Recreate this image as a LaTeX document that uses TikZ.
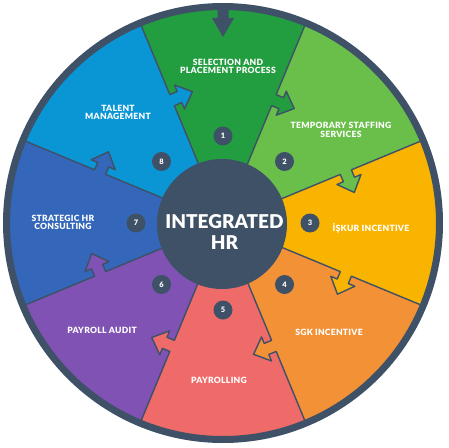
\documentclass[tikz,border=0pt]{standalone}
\usepackage{fontspec}
\setmainfont{Lato}[BoldFont={Lato Black}]
\definecolor{dark}{HTML}{3F5166}
\definecolor{c1}{HTML}{229E40}
\definecolor{c2}{HTML}{6ABF4B}
\definecolor{c3}{HTML}{F8B400}
\definecolor{c4}{HTML}{F29136}
\definecolor{c5}{HTML}{EE6B6A}
\definecolor{c6}{HTML}{7F52B4}
\definecolor{c7}{HTML}{3467BA}
\definecolor{c8}{HTML}{0A95D4}
\begin{document}
\begin{tikzpicture}[x=1pt,y=1pt,
  seglabel/.style={text=white, font=\bfseries\fontsize{8.6}{8.5}\selectfont\addfontfeature{LetterSpace=3}, align=center, inner sep=0pt},
  numdot/.style={circle, fill=dark, text=white, minimum size=19pt, inner sep=0pt, font=\bfseries\fontsize{7.5}{7.5}\selectfont},
  edgeline/.style={draw=dark, line width=1.4pt, line join=round}]
\useasboundingbox (-223,-224) rectangle (226,223);
% sectors
\foreach \k/\col in {1/c1,2/c2,3/c3,4/c4,5/c5,6/c6,7/c7,8/c8}{
  \pgfmathsetmacro\sa{112.5-45*(\k-1)}
  \pgfmathsetmacro\ea{67.5-45*(\k-1)}
  \fill[\col] (0,0) -- (\sa:217) arc[start angle=\sa, end angle=\ea, radius=217] -- cycle;
}
% puzzle arrows on boundaries
\foreach \k/\col in {1/c1,2/c2,3/c3,4/c4,5/c5,6/c6,7/c7,8/c8}{
  \pgfmathsetmacro\b{67.5-45*(\k-1)}
  \begin{scope}[rotate=\b]
    \fill[\col] (127,1) -- (127,-8) -- (120,-8) -- (133,-22) -- (146,-8) -- (139,-8) -- (139,1) -- cycle;
    \draw[edgeline] (60,0) -- (127,0) -- (127,-8) -- (120,-8) -- (133,-22) -- (146,-8) -- (139,-8) -- (139,0) -- (214,0);
  \end{scope}
}
% outer ring
\draw[dark, line width=7pt] (0,0) circle (216.5);
% top arrow
\fill[dark] (-5.5,219) -- (-5.5,205) -- (-11,205) -- (0,186) -- (11,205) -- (5.5,205) -- (5.5,219) -- cycle;
% centre
\fill[dark] (-1,-1) circle (65);
\node[text=white, align=center, font=\bfseries\fontsize{19}{21}\selectfont, inner sep=0pt] (hub) at (1.5,-9) {INTEGRATED\\HR};
% numbers
\foreach \k in {1,...,8}{
  \pgfmathsetmacro\c{90-45*(\k-1)}
  \node[numdot] (n\k) at (\c:87) {\k};
}
% labels
\node[seglabel] (l1) at (5,156.5) {SELECTION AND\\PLACEMENT PROCESS};
\node[seglabel] (l2) at (118,93) {TEMPORARY STAFFING\\SERVICES};
\node[seglabel] (l3) at (148,-5) {İŞKUR INCENTIVE};
\node[seglabel] (l4) at (106,-109) {SGK INCENTIVE};
\node[seglabel] (l5) at (-4,-157) {PAYROLLING};
\node[seglabel] (l6) at (-121,-107) {PAYROLL AUDIT};
\node[seglabel] (l7) at (-160,0.5) {STRATEGIC HR\\CONSULTING};
\node[seglabel] (l8) at (-105,110.5) {TALENT\\MANAGEMENT};
\end{tikzpicture}
\end{document}
